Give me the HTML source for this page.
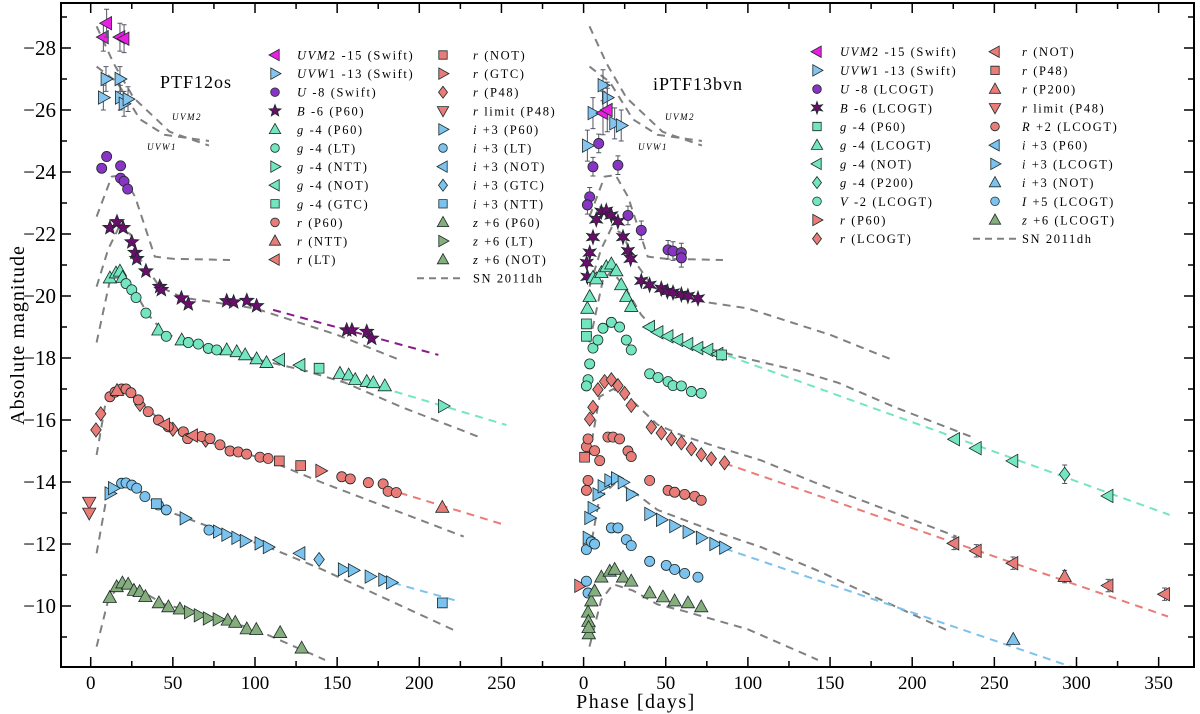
<!DOCTYPE html>
<html><head><meta charset="utf-8"><style>
html,body{margin:0;padding:0;background:#fff;}
svg{display:block;font-family:"Liberation Serif","DejaVu Serif",serif;}
</style></head><body>
<svg id="chart" width="1200" height="714" viewBox="0 0 1200 714" xmlns="http://www.w3.org/2000/svg">
<defs><clipPath id="plotclip"><rect x="61" y="3" width="1133" height="664"/></clipPath></defs>
<g id="plot" clip-path="url(#plotclip)"></g>
<g id="axes"></g>
<g id="legend"></g>
<text x="196" y="88" font-size="18" text-anchor="middle" letter-spacing="1">PTF12os</text>
<text x="698" y="90" font-size="18" text-anchor="middle" letter-spacing="1">iPTF13bvn</text>
<text x="172" y="120" font-size="9" font-style="italic" letter-spacing="1.5">UVM2</text>
<text x="147" y="150" font-size="9" font-style="italic" letter-spacing="1.5">UVW1</text>
<text x="665" y="120" font-size="9" font-style="italic" letter-spacing="1.5">UVM2</text>
<text x="638" y="150" font-size="9" font-style="italic" letter-spacing="1.5">UVW1</text>
<text x="636" y="708" font-size="20" text-anchor="middle" letter-spacing="1.5">Phase [days]</text>
<text transform="translate(24,335) rotate(-90)" font-size="20" text-anchor="middle" letter-spacing="1">Absolute magnitude</text>
</svg>
<script>
// ---------- DATA (day, magnitude) ----------
// PTF12os (left panel)
const L_uvm2_t=[7.7,9.7,17.8,20.3]; const L_uvm2_m=[-28.35,-28.8,-28.35,-28.3];
const L_uvw1_t=[9.3,7.7,17.8,18,20.3,22.7]; const L_uvw1_m=[-27.0,-26.4,-27.0,-26.4,-26.2,-26.35];
const L_U_t=[6.7,9.7,18.2,18.2,20.3,22.5]; const L_U_m=[-24.12,-24.5,-24.2,-23.8,-23.7,-23.45];
const L_B_t=[11.7,16,19.7,25,27,28,33.6,42,43,55.2,59.4,82.8,87,95,101,155.8,159,168,171];
const L_B_m=[-22.2,-22.39,-22.2,-21.74,-21.4,-21.2,-20.8,-20.3,-20.2,-19.93,-19.74,-19.84,-19.8,-19.85,-19.68,-18.9,-18.9,-18.85,-18.63];
const L_g_p60_t=[11.7,15.4,17.8,19.4,41.2,55.4,82.8,88.9,94,101,107,151.7,157,161,168,172,179];
const L_g_p60_m=[-20.58,-20.74,-20.8,-20.6,-18.9,-18.58,-18.26,-18.2,-18.1,-17.97,-17.85,-17.5,-17.45,-17.3,-17.24,-17.2,-17.1];
const L_g_lt_t=[21.5,25,27.6,33.6,46,59.4,65.5,71.6,76.7]; const L_g_lt_m=[-20.4,-20.2,-19.95,-19.45,-18.7,-18.5,-18.45,-18.31,-18.26];
const L_g_not_t=[115,127.4]; const L_g_not_m=[-17.94,-17.77];
const L_g_gtc_t=[139]; const L_g_gtc_m=[-17.67];
const L_g_ntt_t=[214.6]; const L_g_ntt_m=[-16.45];
const L_r_p60_t=[11.7,14.8,18.8,21.5,24.5,29,35,41.2,47.2,56.4,59,67.5,72.6,78.7,84.8,89.8,94.9,103,108,152.8,158,169,178,181,186];
const L_r_p60_m=[-16.75,-16.9,-17.0,-17.0,-16.88,-16.65,-16.27,-16.0,-15.78,-15.62,-15.4,-15.47,-15.4,-15.2,-15.0,-14.97,-14.9,-14.8,-14.76,-14.17,-14.1,-13.98,-13.94,-13.7,-13.66];
const L_r_lt_t=[45,62]; const L_r_lt_m=[-15.85,-15.5];
const L_r_p48_t=[3.2,6.1,30,50,70]; const L_r_p48_m=[-15.68,-16.2,-16.5,-15.7,-15.35];
const L_r_not_t=[114.8,127.8]; const L_r_not_m=[-14.68,-14.53];
const L_r_gtc_t=[140]; const L_r_gtc_m=[-14.36];
const L_r_ntt_t=[16,214]; const L_r_ntt_m=[-16.95,-13.18];
const L_r_lim_t=[-0.9,-0.9]; const L_r_lim_m=[-13.35,-13.0];
const L_i_p60_t=[11.7,13.8,57.4,77.7,82.8,88.9,94,103,108,153.7,159.8,170,178.3,183];
const L_i_p60_m=[-13.63,-13.8,-12.83,-12.4,-12.3,-12.2,-12.1,-12.02,-11.9,-11.18,-11.15,-10.95,-10.85,-10.76];
const L_i_lt_t=[18.8,21.5,25,28,33,41.2,46,72]; const L_i_lt_m=[-13.96,-13.97,-13.9,-13.8,-13.53,-13.26,-13.1,-12.45];
const L_i_not_t=[127.4]; const L_i_not_m=[-11.7];
const L_i_gtc_t=[139]; const L_i_gtc_m=[-11.5];
const L_i_ntt_t=[40,214]; const L_i_ntt_m=[-13.3,-10.1];
const L_z_p60_t=[11.6,15.8,19.3,22.8,26.3,29.8,33.3,41.5,47.3,54.3,83.4,88,95,100.8,115.3,128.4];
const L_z_p60_m=[-10.27,-10.62,-10.74,-10.7,-10.5,-10.46,-10.3,-10.1,-9.97,-9.9,-9.54,-9.47,-9.26,-9.24,-9.14,-8.64];
const L_z_lt_t=[60,66,71.5,77.5]; const L_z_lt_m=[-9.8,-9.7,-9.6,-9.57];
// iPTF13bvn (right panel)
const R_uvm2_t=[11.8,14.4]; const R_uvm2_m=[-25.9,-26.0];
const R_uvw1_t=[11.8,14.4,5.7,2.3,18.9,22.9]; const R_uvw1_m=[-26.8,-26.4,-25.9,-24.85,-25.57,-25.5];
const R_U_t=[9.2,5.7,20.9,3.7,2.3,27,35.1,51.4,54.4,59.5,59.5]; const R_U_m=[-24.92,-24.17,-24.22,-23.2,-22.94,-22.6,-22.12,-21.49,-21.45,-21.4,-21.23];
const R_B_t=[2.3,1.9,3.7,5.7,7.7,10.8,13.8,16.9,20.9,24,27,28.6,35.1,40.2,47.3,51,54.4,59.5,63.5,69.6];
const R_B_m=[-20.62,-21.07,-21.4,-21.9,-22.47,-22.72,-22.75,-22.6,-22.4,-21.9,-21.45,-21.2,-20.49,-20.36,-20.24,-20.15,-20.11,-20.05,-20.0,-19.92];
const R_g_lco_t=[2.3,3.7,5.7,7.7,10.8,13.8,16.9,19.9,22.9,26,29]; const R_g_lco_m=[-19.6,-19.98,-20.6,-20.55,-20.75,-20.94,-21.03,-20.81,-20.36,-19.98,-19.66];
const R_g_not_t=[40.2,45.3,51.4,57.4,63.5,69.6,75.7,81.8,225.8,239,261.3,319.2]; const R_g_not_m=[-19.0,-18.83,-18.7,-18.58,-18.45,-18.32,-18.26,-18.13,-15.38,-15.09,-14.68,-13.55];
const R_g_p60_t=[1.7,1.7,84]; const R_g_p60_m=[-18.7,-19.1,-18.1];
const R_g_p200_t=[292.8]; const R_g_p200_m=[-14.25];
const R_V_t=[5.7,3.7,2.7,1.7,8.7,11.8,16.9,21.9,26,29,40.2,45.3,51.4,54.4,59.5,65.6,71.6];
const R_V_m=[-18.32,-17.81,-17.3,-17.1,-18.58,-18.96,-19.15,-19.0,-18.58,-18.26,-17.49,-17.37,-17.24,-17.11,-17.1,-16.92,-16.86];
const R_r_lco_t=[3.7,5.7,8.7,12.8,16.9,20.9,25,29,41.2,47.3,53.4,59.5,65.6,71.6,77.7,85.8];
const R_r_lco_m=[-16.03,-16.41,-16.98,-17.24,-17.3,-17.11,-16.86,-16.47,-15.77,-15.58,-15.39,-15.26,-15.07,-14.88,-14.75,-14.62];
const R_R_t=[1.7,2.7,6.7,9.8,14.8,17.9,21.9,27,29,2.7,1.7,40.2,51.4,55.4,61.5,67.6,71.6];
const R_R_m=[-15.14,-15.39,-15.01,-14.69,-15.45,-15.45,-15.39,-15.0,-14.82,-14.05,-13.73,-14.05,-13.73,-13.67,-13.6,-13.54,-13.41];
const R_r_not_t=[225.4,239,261.3,319.2,353.6]; const R_r_not_m=[-12.02,-11.78,-11.38,-10.66,-10.38];
const R_r_p200_t=[292.8]; const R_r_p200_m=[-10.95];
const R_r_p60_t=[-2.4]; const R_r_p60_m=[-10.65];
const R_r_p48_t=[0.6]; const R_r_p48_m=[-14.8];
const R_i_lco_t=[5.7,8.7,11.8,15.9,19.9,24,29,40.2,47.3,55.4,63.5,71.6,79.8,85.8,3.7,2.7];
const R_i_lco_m=[-13.16,-13.6,-13.86,-14.05,-14.12,-13.99,-13.6,-12.97,-12.78,-12.58,-12.39,-12.2,-12.0,-11.88,-12.84,-12.2];
const R_i_not_t=[261.5]; const R_i_not_m=[-8.92];
const R_I_t=[1.7,4.7,6.7,16.9,20.9,26,29,40.2,50.3,55.4,61.5,69.6,1.7,2.7];
const R_I_m=[-11.82,-12.07,-12.0,-12.52,-12.52,-12.14,-11.95,-11.44,-11.31,-11.18,-11.05,-10.93,-10.8,-10.42];
const R_z_t=[4.7,6.7,10.8,15.9,18.9,24,29,40.2,48.3,55.4,63.5,71.6,2.7,2.9,3.2,3.0];
const R_z_m=[-10.16,-10.48,-10.93,-11.12,-11.18,-10.93,-10.8,-10.42,-10.29,-10.16,-10.1,-9.97,-9.8,-9.5,-9.1,-9.3];
// SN 2011dh templates (same in both panels)
const T_uvm2_t=[3.6,14,26,48,72]; const T_uvm2_m=[-28.7,-27.5,-26.4,-25.3,-24.85];
const T_uvw1_t=[3.6,16,30,45,72]; const T_uvw1_m=[-27.4,-26.9,-25.7,-25.2,-25.0];
const T_U_t=[3.6,12.8,19.5,27,39,50,84.8]; const T_U_m=[-22.56,-23.85,-23.9,-23.2,-21.27,-21.2,-21.16];
const T_B_t=[3.6,10.6,17,24,30,42,56,100,150,188]; const T_B_m=[-20.3,-21.5,-22.2,-22.0,-21.2,-20.3,-19.95,-19.6,-18.75,-17.94];
const T_g_t=[3.6,11.7,17,25,35,45,60,80,100,130,155,190,236]; const T_g_m=[-18.5,-20.5,-20.8,-20.3,-19.4,-18.8,-18.5,-18.25,-17.97,-17.6,-17.2,-16.4,-15.46];
const T_r_t=[3.6,9.7,18,30,45,60,80,108,140,227]; const T_r_m=[-14.87,-16.75,-17.0,-16.6,-15.85,-15.5,-15.15,-14.7,-14.0,-12.24];
const T_i_t=[3.6,9.7,20,30,45,60,80,108,140,222]; const T_i_m=[-11.7,-13.5,-14.0,-13.7,-13.1,-12.8,-12.4,-11.9,-11.2,-9.2];
const T_z_t=[3.6,10.7,18,30,45,60,80,100,142.6]; const T_z_m=[-8.69,-10.2,-10.7,-10.5,-10.05,-9.85,-9.55,-9.25,-8.26];
// linear extrapolation fits
const F_L_B_t=[111,211.6]; const F_L_B_m=[-19.55,-18.1];
const F_L_g_t=[185,253]; const F_L_g_m=[-16.92,-15.84];
const F_L_r_t=[188,253]; const F_L_r_m=[-13.65,-12.6];
const F_L_i_t=[184,224.7]; const F_L_i_m=[-10.75,-10.14];
const F_R_g_t=[88,356.7]; const F_R_g_m=[-18.07,-12.94];
const F_R_r_t=[86,355.7]; const F_R_r_m=[-14.6,-9.66];
const F_R_i_t=[86,325]; const F_R_i_m=[-11.85,-7.53];
const xTickLabels=["0","50","100","150","200","250","0","50","100","150","200","250","300","350"];
const yTickLabels=["\u221228","\u221226","\u221224","\u221222","\u221220","\u221218","\u221216","\u221214","\u221212","\u221210"];

// ---------- AXES ----------
const NS="http://www.w3.org/2000/svg";
const X0=90.7, PXD=1.643, RIGHT_OFF=300;
function xS(t,panel){return X0+PXD*(t+(panel?RIGHT_OFF:0));}
function yS(m){return 48+(m+28)*31;}
function mk(tag,attrs,parent){const e=document.createElementNS(NS,tag);for(const k in attrs)e.setAttribute(k,attrs[k]);parent.appendChild(e);return e;}
const plot=document.getElementById('plot'), axes=document.getElementById('axes'), legend=document.getElementById('legend');
const C={uvm2:'#e81ee0',uvw1:'#86c4f0',U:'#8a34c4',B:'#6b0d6b',g:'#74e6bf',r:'#ea7c78',i:'#7cc2ee',z:'#86ad7c'};

function shapePath(shape,cx,cy,s){
  switch(shape){
    case 'up': return `M${cx},${cy-s}L${cx+s*0.95},${cy+s*0.7}L${cx-s*0.95},${cy+s*0.7}Z`;
    case 'down': return `M${cx},${cy+s}L${cx+s*0.95},${cy-s*0.7}L${cx-s*0.95},${cy-s*0.7}Z`;
    case 'left': return `M${cx-s},${cy}L${cx+s*0.7},${cy-s*0.95}L${cx+s*0.7},${cy+s*0.95}Z`;
    case 'right': return `M${cx+s},${cy}L${cx-s*0.7},${cy-s*0.95}L${cx-s*0.7},${cy+s*0.95}Z`;
    case 'square': {const h=s*0.7;return `M${cx-h},${cy-h}h${2*h}v${2*h}h${-2*h}Z`;}
    case 'diamond': return `M${cx},${cy-s}L${cx+s*0.75},${cy}L${cx},${cy+s}L${cx-s*0.75},${cy}Z`;
    case 'star5': case 'star6': {const n=shape==='star5'?5:6;let d='';for(let k=0;k<2*n;k++){const r=k%2?s*0.45:s*1.05;const a=-Math.PI/2+k*Math.PI/n;d+=(k?'L':'M')+(cx+r*Math.cos(a)).toFixed(1)+','+(cy+r*Math.sin(a)).toFixed(1);}return d+'Z';}
  }
  return '';
}
function marker(parent,shape,cx,cy,fill,s){
  if(shape==='circle') return mk('circle',{cx:cx,cy:cy,r:s*0.72,fill:fill,stroke:'#1a2a2a','stroke-width':0.8},parent);
  return mk('path',{d:shapePath(shape,cx,cy,s),fill:fill,stroke:'#1a2a2a','stroke-width':0.8},parent);
}
function series(name,ts,ms,panel,shape,color,err){
  const g=mk('g',{},plot);
  
  
  for(let k=0;k<ts.length;k++){
    const cx=xS(ts[k],panel), cy=yS(ms[k]);
    if(err){mk('path',{d:`M${cx},${yS(ms[k]-err)}V${yS(ms[k]+err)}M${cx-2.5},${yS(ms[k]-err)}h5M${cx-2.5},${yS(ms[k]+err)}h5`,stroke:'#556',fill:'none','stroke-width':1},g);}
    const e=marker(g,shape,cx,cy,color,7);
    
    
  }
}
function line(name,ts,ms,panel,color){
  let d='';for(let k=0;k<ts.length;k++){d+=(k?'L':'M')+xS(ts[k],panel).toFixed(1)+','+yS(ms[k]).toFixed(1);}
  const p=mk('path',{d:d,fill:'none',stroke:color,'stroke-width':2,'stroke-dasharray':'8,6'},plot);
  
  
}
// templates
const GR='#808080';
for(const panel of [0,1]){
  const side=panel?'right':'left';
  line('sn2011dh-uvm2-'+side,T_uvm2_t,T_uvm2_m,panel,GR);
  line('sn2011dh-uvw1-'+side,T_uvw1_t,T_uvw1_m,panel,GR);
  line('sn2011dh-u-'+side,T_U_t,T_U_m,panel,GR);
  line('sn2011dh-b-'+side,T_B_t,T_B_m,panel,GR);
  line('sn2011dh-g-'+side,T_g_t,T_g_m,panel,GR);
  line('sn2011dh-r-'+side,T_r_t,T_r_m,panel,GR);
  line('sn2011dh-i-'+side,T_i_t,T_i_m,panel,GR);
  line('sn2011dh-z-'+side,T_z_t,T_z_m,panel,GR);
}
line('fit-b-left',F_L_B_t,F_L_B_m,0,'#8a1a8a');
line('fit-g-left',F_L_g_t,F_L_g_m,0,C.g);
line('fit-r-left',F_L_r_t,F_L_r_m,0,C.r);
line('fit-i-left',F_L_i_t,F_L_i_m,0,C.i);
line('fit-g-right',F_R_g_t,F_R_g_m,1,C.g);
line('fit-r-right',F_R_r_t,F_R_r_m,1,C.r);
line('fit-i-right',F_R_i_t,F_R_i_m,1,C.i);
// left data
series('ptf12os-uvm2',L_uvm2_t,L_uvm2_m,0,'left',C.uvm2,0.45);
series('ptf12os-uvw1',L_uvw1_t,L_uvw1_m,0,'right',C.uvw1,0.4);
series('ptf12os-u',L_U_t,L_U_m,0,'circle',C.U);
series('ptf12os-b',L_B_t,L_B_m,0,'star5',C.B);
series('ptf12os-g-p60',L_g_p60_t,L_g_p60_m,0,'up',C.g);
series('ptf12os-g-lt',L_g_lt_t,L_g_lt_m,0,'circle',C.g);
series('ptf12os-g-not',L_g_not_t,L_g_not_m,0,'left',C.g);
series('ptf12os-g-gtc',L_g_gtc_t,L_g_gtc_m,0,'square',C.g);
series('ptf12os-g-ntt',L_g_ntt_t,L_g_ntt_m,0,'right',C.g);
series('ptf12os-r-p48',L_r_p48_t,L_r_p48_m,0,'diamond',C.r);
series('ptf12os-r-p60',L_r_p60_t,L_r_p60_m,0,'circle',C.r);
series('ptf12os-r-lt',L_r_lt_t,L_r_lt_m,0,'left',C.r);
series('ptf12os-r-not',L_r_not_t,L_r_not_m,0,'square',C.r);
series('ptf12os-r-gtc',L_r_gtc_t,L_r_gtc_m,0,'right',C.r);
series('ptf12os-r-ntt',L_r_ntt_t,L_r_ntt_m,0,'up',C.r);
series('ptf12os-r-limit',L_r_lim_t,L_r_lim_m,0,'down',C.r);
series('ptf12os-i-p60',L_i_p60_t,L_i_p60_m,0,'right',C.i);
series('ptf12os-i-lt',L_i_lt_t,L_i_lt_m,0,'circle',C.i);
series('ptf12os-i-not',L_i_not_t,L_i_not_m,0,'left',C.i);
series('ptf12os-i-gtc',L_i_gtc_t,L_i_gtc_m,0,'diamond',C.i);
series('ptf12os-i-ntt',L_i_ntt_t,L_i_ntt_m,0,'square',C.i);
series('ptf12os-z-p60',L_z_p60_t,L_z_p60_m,0,'up',C.z);
series('ptf12os-z-lt',L_z_lt_t,L_z_lt_m,0,'right',C.z);
// right data
series('iptf13bvn-uvw1',R_uvw1_t,R_uvw1_m,1,'right',C.uvw1,0.5);
series('iptf13bvn-uvm2',R_uvm2_t,R_uvm2_m,1,'left',C.uvm2,0.7);
series('iptf13bvn-u',R_U_t,R_U_m,1,'circle',C.U,0.3);
series('iptf13bvn-b',R_B_t,R_B_m,1,'star6',C.B);
series('iptf13bvn-g-lcogt',R_g_lco_t,R_g_lco_m,1,'up',C.g);
series('iptf13bvn-g-not',R_g_not_t,R_g_not_m,1,'left',C.g);
series('iptf13bvn-g-p60',R_g_p60_t,R_g_p60_m,1,'square',C.g);
series('iptf13bvn-g-p200',R_g_p200_t,R_g_p200_m,1,'diamond',C.g,0.3);
series('iptf13bvn-v',R_V_t,R_V_m,1,'circle',C.g);
series('iptf13bvn-r-lcogt',R_r_lco_t,R_r_lco_m,1,'diamond',C.r);
series('iptf13bvn-r-p48',R_r_p48_t,R_r_p48_m,1,'square',C.r);
series('iptf13bvn-rr-lcogt',R_R_t,R_R_m,1,'circle',C.r);
series('iptf13bvn-r-not',R_r_not_t,R_r_not_m,1,'left',C.r,0.2);
series('iptf13bvn-r-p200',R_r_p200_t,R_r_p200_m,1,'up',C.r,0.2);
series('iptf13bvn-r-p60',R_r_p60_t,R_r_p60_m,1,'right',C.r);
series('iptf13bvn-i-lcogt',R_i_lco_t,R_i_lco_m,1,'right',C.i);
series('iptf13bvn-i-not',R_i_not_t,R_i_not_m,1,'up',C.i);
series('iptf13bvn-ii-lcogt',R_I_t,R_I_m,1,'circle',C.i);
series('iptf13bvn-z-lcogt',R_z_t,R_z_m,1,'up',C.z);

// frame and ticks
const FL=61,FR=1194,FT=3,FB=667;
const fr=mk('rect',{x:FL,y:FT,width:FR-FL,height:FB-FT,fill:'none',stroke:'#000','stroke-width':2},axes);


let li=0;
for(let G=0;G<=675;G+=25){
  const x=X0+PXD*G; if(x>FR-2)break;
  const major=(G%50===0)&&G!==300-25;
  const len=major?10:6;
  mk('line',{x1:x,y1:FB,x2:x,y2:FB-len,stroke:'#000','stroke-width':1.5},axes);
  mk('line',{x1:x,y1:FT,x2:x,y2:FT+len,stroke:'#000','stroke-width':1.5},axes);
  if(G%50===0 && G!==300-0 && G<=250 || (G>=300 && G%50===0)){
    const t=mk('text',{x:x,y:689,'font-size':19,'text-anchor':'middle'},axes);
    t.textContent=xTickLabels[li++];
    
    
  }
}
for(let m=-29;m<=-9;m++){
  const y=yS(m); if(y<FT||y>FB)continue;
  const major=(m%2===0);const len=major?10:6;
  mk('line',{x1:FL,y1:y,x2:FL+len,y2:y,stroke:'#000','stroke-width':1.5},axes);
  mk('line',{x1:FR,y1:y,x2:FR-len,y2:y,stroke:'#000','stroke-width':1.5},axes);
}
for(let k=0;k<yTickLabels.length;k++){
  const m=-28+2*k;
  const t=mk('text',{x:56,y:yS(m)+7,'font-size':21,'text-anchor':'end'},axes);
  t.textContent=yTickLabels[k];
  
  
}

// legends
function legendEntry(mx,tx,y,shape,color,label){
  const g=mk('g',{},legend);
  
  
  if(shape==='dash'){mk('line',{x1:mx,y1:y,x2:mx+46,y2:y,stroke:GR,'stroke-width':2,'stroke-dasharray':'7,5'},g);}
  else marker(g,shape,mx,y,color,6);
  const t=mk('text',{x:tx,y:y+4.5,'font-size':12.5,'letter-spacing':'1.6'},g);
  t.innerHTML=label;
}
const I=s=>`<tspan font-style="italic">${s}</tspan>`;
const leftA=[['left',C.uvm2,I('UVM')+'2 -15 (Swift)'],['right',C.uvw1,I('UVW')+'1 -13 (Swift)'],['circle',C.U,I('U')+' -8 (Swift)'],['star5',C.B,I('B')+' -6 (P60)'],['up',C.g,I('g')+' -4 (P60)'],['circle',C.g,I('g')+' -4 (LT)'],['right',C.g,I('g')+' -4 (NTT)'],['left',C.g,I('g')+' -4 (NOT)'],['square',C.g,I('g')+' -4 (GTC)'],['circle',C.r,I('r')+' (P60)'],['up',C.r,I('r')+' (NTT)'],['left',C.r,I('r')+' (LT)']];
const leftB=[['square',C.r,I('r')+' (NOT)'],['right',C.r,I('r')+' (GTC)'],['diamond',C.r,I('r')+' (P48)'],['down',C.r,I('r')+' limit (P48)'],['right',C.i,I('i')+' +3 (P60)'],['circle',C.i,I('i')+' +3 (LT)'],['left',C.i,I('i')+' +3 (NOT)'],['diamond',C.i,I('i')+' +3 (GTC)'],['square',C.i,I('i')+' +3 (NTT)'],['up',C.z,I('z')+' +6 (P60)'],['right',C.z,I('z')+' +6 (LT)'],['up',C.z,I('z')+' +6 (NOT)']];
leftA.forEach((e,k)=>legendEntry(275,297,55+18.6*k,e[0],e[1],e[2]));
leftB.forEach((e,k)=>legendEntry(443,473,55+18.6*k,e[0],e[1],e[2]));
legendEntry(417,473,55+18.6*12,'dash',GR,'SN 2011dh');
const rightA=[['left',C.uvm2,I('UVM')+'2 -15 (Swift)'],['right',C.uvw1,I('UVW')+'1 -13 (Swift)'],['circle',C.U,I('U')+' -8 (LCOGT)'],['star6',C.B,I('B')+' -6 (LCOGT)'],['square',C.g,I('g')+' -4 (P60)'],['up',C.g,I('g')+' -4 (LCOGT)'],['left',C.g,I('g')+' -4 (NOT)'],['diamond',C.g,I('g')+' -4 (P200)'],['circle',C.g,I('V')+' -2 (LCOGT)'],['right',C.r,I('r')+' (P60)'],['diamond',C.r,I('r')+' (LCOGT)']];
const rightB=[['left',C.r,I('r')+' (NOT)'],['square',C.r,I('r')+' (P48)'],['up',C.r,I('r')+' (P200)'],['down',C.r,I('r')+' limit (P48)'],['circle',C.r,I('R')+' +2 (LCOGT)'],['left',C.i,I('i')+' +3 (P60)'],['right',C.i,I('i')+' +3 (LCOGT)'],['up',C.i,I('i')+' +3 (NOT)'],['circle',C.i,I('I')+' +5 (LCOGT)'],['up',C.z,I('z')+' +6 (LCOGT)']];
rightA.forEach((e,k)=>legendEntry(817,840,51.7+18.7*k,e[0],e[1],e[2]));
rightB.forEach((e,k)=>legendEntry(995,1022,51.7+18.7*k,e[0],e[1],e[2]));
legendEntry(973,1022,51.7+18.7*10,'dash',GR,'SN 2011dh');
</script>
</body></html>
